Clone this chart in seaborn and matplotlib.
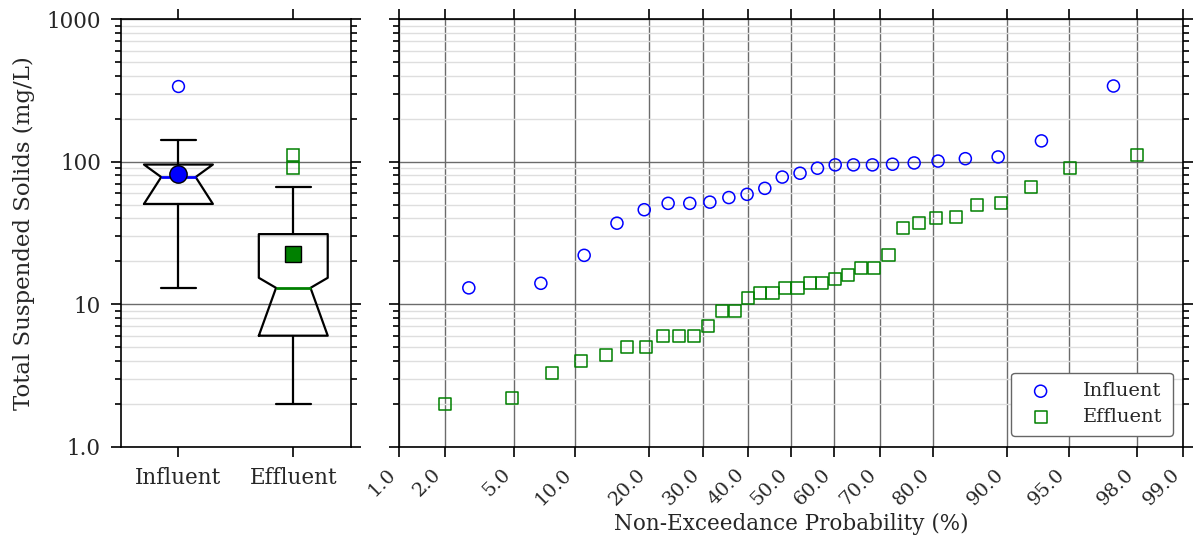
import numpy as np
import matplotlib
matplotlib.use("Agg")
import matplotlib.pyplot as plt
from matplotlib import ticker
import seaborn as sns

# ---------------- data ----------------
influent = [13, 14, 22, 37, 46, 51, 51, 52, 56, 59, 65, 78, 83, 90, 95, 95, 95,
            96, 98, 101, 105, 108, 140, 340]
influent_prob = [2.8, 6.9, 11.0, 15.1, 19.2, 23.3, 27.4, 31.5, 35.6, 39.7, 43.8,
                 47.9, 52.1, 56.2, 60.3, 64.4, 68.5, 72.6, 76.7, 80.8, 84.9, 89.0,
                 93.1, 97.2]
effluent = [2.0, 2.2, 3.3, 4.0, 4.4, 5.0, 5.0, 6, 6, 6, 7, 9, 9, 11, 12, 12, 13, 13,
            14, 14, 15, 16, 18, 18, 22, 34, 37, 40, 41, 50, 51, 66, 91, 112]
effluent_prob = [2.0, 4.9, 7.8, 10.7, 13.6, 16.5, 19.5, 22.4, 25.3, 28.2, 31.1, 34.0,
                 36.9, 39.8, 42.7, 45.6, 48.5, 51.5, 54.4, 57.3, 60.2, 63.1, 66.0,
                 68.9, 71.8, 74.7, 77.6, 80.5, 83.5, 86.4, 89.3, 92.2, 95.1, 98.0]

box_labels = ["Influent", "Effluent"]
box_whislo = [13, 2]
box_q1 = [50.5, 6]
box_med = [78, 13]
box_q3 = [95.5, 31]
box_whishi = [141, 66]
box_mean = [82.5, 22.6]
box_cilo = [50.5, 6]
box_cihi = [95.5, 15.3]
box_fliers = [[340], [91, 112]]

prob_ticks = [1, 2, 5, 10, 20, 30, 40, 50, 60, 70, 80, 90, 95, 98, 99]
prob_ticklabels = ["1.0", "2.0", "5.0", "10.0", "20.0", "30.0", "40.0", "50.0",
                   "60.0", "70.0", "80.0", "90.0", "95.0", "98.0", "99.0"]
y_ticks = [1, 10, 100, 1000]
y_ticklabels = ["1.0", "10", "100", "1000"]

colors = ["blue", "green"]
markers = ["o", "s"]

# ---------------- probability scale helpers ----------------
_b = 0.147


def _inv_erf(z):
    z = np.asarray(z, dtype=float)
    with np.errstate(all="ignore"):
        lnx = np.log(1 - z ** 2)
        c = 2 / (np.pi * _b)
        t1 = (c + lnx / 2) ** 2 - lnx / _b
        t2 = c + lnx / 2
        return np.sign(z) * np.sqrt(np.sqrt(t1) - t2)


def _erf(x):
    x = np.asarray(x, dtype=float)
    guts = -(x ** 2) * (4 / np.pi + _b * x ** 2) / (1 + _b * x ** 2)
    return np.sign(x) * np.sqrt(1 - np.exp(guts))


def fwd(p):
    p = np.clip(np.asarray(p, dtype=float), 1e-6, 100 - 1e-6)
    return np.sqrt(2) * _inv_erf(2 * p / 100.0 - 1)


def inv(z):
    return 100 * 0.5 * (1 + _erf(np.asarray(z, dtype=float) / np.sqrt(2)))


# ---------------- styling ----------------
sns.set_style("white")
plt.rcParams["font.family"] = ["DejaVu Serif"]
plt.rcParams["font.size"] = 15

W, H = 1193, 542
fig = plt.figure(figsize=(W / 100, H / 100), dpi=100)
bottom = (H - 446.5) / H
height = (446.5 - 19.3) / H
ax1 = fig.add_axes([121 / W, bottom, (350.7 - 121) / W, height])
ax2 = fig.add_axes([399 / W, bottom, (1183.3 - 399) / W, height], sharey=ax1)

# ---------------- box plots ----------------
for i in range(2):
    stats = [dict(label=box_labels[i], whislo=box_whislo[i], q1=box_q1[i],
                  med=box_med[i], q3=box_q3[i], whishi=box_whishi[i],
                  mean=box_mean[i], cilo=box_cilo[i], cihi=box_cihi[i],
                  fliers=box_fliers[i])]
    ax1.bxp(stats, positions=[i + 1], widths=0.6, shownotches=True, showmeans=True,
            boxprops=dict(color="black", lw=1.6),
            whiskerprops=dict(color="black", lw=1.6),
            capprops=dict(color="black", lw=1.6),
            medianprops=dict(color=colors[i], lw=2),
            meanprops=dict(marker=markers[i], markerfacecolor=colors[i],
                           markeredgecolor="black", markersize=12.5 if i == 0 else 11.5,
                           markeredgewidth=1),
            flierprops=dict(marker=markers[i], markerfacecolor="none",
                            markeredgecolor=colors[i], markersize=8.5,
                            markeredgewidth=1.1))

ax1.set_xlim(0.5, 2.5)
ax1.set_xticks([1, 2])
ax1.set_xticklabels(box_labels)

# ---------------- probability plot ----------------
ax2.set_xscale("function", functions=(fwd, inv))
sns.scatterplot(x=influent_prob, y=influent, ax=ax2, marker="o", s=75,
                facecolor="none", edgecolor="blue", linewidth=1.1, label="Influent")
sns.scatterplot(x=effluent_prob, y=effluent, ax=ax2, marker="s", s=75,
                facecolor="none", edgecolor="green", linewidth=1.1, label="Effluent")
ax2.set_xlim(1, 99)
ax2.set_xticks(prob_ticks)
ax2.set_xticklabels(prob_ticklabels, rotation=45, ha="right")
ax2.xaxis.set_minor_locator(ticker.NullLocator())
ax2.set_xlabel("Non-Exceedance Probability (%)", fontsize=15.5, labelpad=3)

# ---------------- y axis ----------------
ax1.set_yscale("log")
ax1.set_ylim(1, 1000)
ax1.yaxis.set_major_locator(ticker.FixedLocator(y_ticks))
ax1.yaxis.set_major_formatter(ticker.FixedFormatter(y_ticklabels))
ax1.yaxis.set_minor_locator(ticker.LogLocator(base=10, subs=np.arange(2, 10)))
ax1.yaxis.set_minor_formatter(ticker.NullFormatter())
ax1.set_ylabel("Total Suspended Solids (mg/L)", fontsize=16.5, labelpad=8)
plt.setp(ax2.get_yticklabels(), visible=False)

for ax in (ax1, ax2):
    ax.grid(True, which="major", axis="y", color="0.42", lw=1.0)
    ax.grid(True, which="minor", axis="y", color="0.87", lw=1.0)
    ax.set_axisbelow(True)
    for s in ax.spines.values():
        s.set_visible(True)
        s.set_color("black")
        s.set_linewidth(1.2)
    ax.tick_params(which="both", direction="out", top=True, right=True,
                   bottom=True, left=True, color="black", width=1.2)
    ax.tick_params(which="major", length=7.5, pad=7)
    ax.tick_params(which="minor", length=4)
    ax.tick_params(axis="both", labelsize=15.5)

ax2.grid(True, which="major", axis="x", color="0.42", lw=1.0)
ax2.tick_params(axis="x", pad=6, labelsize=14)
ax2.tick_params(axis="y", labelleft=False)

leg = ax2.legend(loc="lower right", fontsize=14, frameon=True, fancybox=True,
                 edgecolor="0.4", framealpha=1, scatterpoints=1,
                 handletextpad=1.2, borderpad=0.5, borderaxespad=0.55,
                 labelspacing=0.4)
leg.get_frame().set_linewidth(1.0)

fig.savefig("out.png", dpi=100)
